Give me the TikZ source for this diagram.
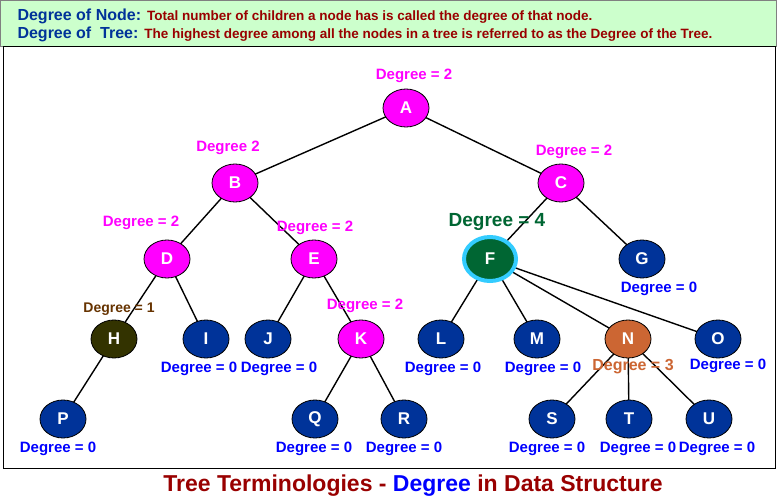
\documentclass[tikz,border=0pt]{standalone}
\usepackage{fontspec}
\setmainfont{Liberation Sans}
\usetikzlibrary{shapes.geometric}
\definecolor{mag}{HTML}{FF00FF}
\definecolor{nblue}{HTML}{003399}
\definecolor{lblue}{HTML}{0000FF}
\definecolor{dred}{HTML}{990000}
\definecolor{fgreen}{HTML}{006633}
\definecolor{nor}{HTML}{CC6633}
\definecolor{olive}{HTML}{333300}
\definecolor{brn}{HTML}{663300}
\definecolor{bann}{HTML}{CCFFCC}
\definecolor{cyb}{HTML}{33CCFF}
\begin{document}
\begin{tikzpicture}[x=1pt,y=-1pt,
  nd/.style={ellipse,draw=black,line width=0.8pt,minimum width=46pt,minimum height=38pt,inner sep=0pt,text=white,font=\bfseries\fontsize{17}{19}\selectfont},
  mg/.style={nd,fill=mag},
  bl/.style={nd,fill=nblue},
  lab/.style={font=\bfseries\fontsize{15}{17}\selectfont},
  edge/.style={line width=1.4pt}]
\useasboundingbox (0,0) rectangle (777,498);
\fill[white] (0,0) rectangle (777,498);
\draw[fill=bann,draw=gray] (0.5,0.5) rectangle (776.5,46);
\draw[line width=0.8pt] (3,46) rectangle (775,468);
\node[anchor=west,font=\bfseries\fontsize{16}{18}\selectfont] (b1) at (14,16) {\textcolor{nblue}{Degree of Node:} \textcolor{dred}{\fontsize{13.5}{15}\selectfont Total number of children a node has is called the degree of that node.}};
\node[anchor=west,font=\bfseries\fontsize{16}{18}\selectfont] (b2) at (14,34) {\textcolor{nblue}{Degree of~~Tree:} \textcolor{dred}{\fontsize{13.5}{15}\selectfont The highest degree among all the nodes in a tree is referred to as the Degree of the Tree.}};
\foreach \a/\b/\c in {A/406/108,B/235/183,C/561/183,D/167/259,E/314/259,F/490/259,G/642/259,H/114/339,I/206/339,J/268/339,K/361/339,L/441/339,M/537/339,N/628/339,O/718/339,P/63/419,Q/315/419,R/404/419,S/552/419,T/629/419,U/709/419}
  \coordinate (p\a) at (\b,\c);
\foreach \a/\b in {A/B,A/C,B/D,B/E,C/F,C/G,D/H,D/I,E/J,E/K,H/P,K/Q,K/R,F/L,F/M,F/N,F/O,N/S,N/T,N/U}
  \draw[edge] (p\a) -- (p\b);
\node[mg] (A) at (pA) {A};
\node[mg] (B) at (pB) {B};
\node[mg] (C) at (pC) {C};
\node[mg] (D) at (pD) {D};
\node[mg] (E) at (pE) {E};
\node[nd,fill=fgreen,draw=cyb,line width=4pt,minimum width=52pt,minimum height=44pt] (F) at (pF) {F};
\node[bl] (G) at (pG) {G};
\node[nd,fill=olive] (H) at (pH) {H};
\node[bl] (I) at (pI) {I};
\node[bl] (J) at (pJ) {J};
\node[mg] (K) at (pK) {K};
\node[bl] (L) at (pL) {L};
\node[bl] (M) at (pM) {M};
\node[nd,fill=nor] (N) at (pN) {N};
\node[bl] (O) at (pO) {O};
\node[bl] (P) at (pP) {P};
\node[bl] (Q) at (pQ) {Q};
\node[bl] (R) at (pR) {R};
\node[bl] (S) at (pS) {S};
\node[bl] (T) at (pT) {T};
\node[bl] (U) at (pU) {U};
\node[lab,text=mag] (la) at (414,76) {Degree = 2};
\node[lab,text=mag] (lb) at (228,148) {Degree 2};
\node[lab,text=mag] (lc) at (574,152) {Degree = 2};
\node[lab,text=mag] (ld) at (141,223) {Degree = 2};
\node[lab,text=mag] (le) at (315,228) {Degree = 2};
\node[lab,text=fgreen,font=\bfseries\fontsize{19}{21}\selectfont] (lf) at (497,222) {Degree = 4};
\node[lab,text=lblue] (lg) at (659,289) {Degree = 0};
\node[lab,text=brn,font=\bfseries\fontsize{14}{16}\selectfont] (lh) at (119,309) {Degree = 1};
\node[lab,text=mag] (lk) at (365,306) {Degree = 2};
\node[lab,text=lblue] (li) at (199,369) {Degree = 0};
\node[lab,text=lblue] (lj) at (279,369) {Degree = 0};
\node[lab,text=lblue] (ll) at (443,369) {Degree = 0};
\node[lab,text=lblue] (lm) at (543,369) {Degree = 0};
\node[lab,text=nor,font=\bfseries\fontsize{16}{18}\selectfont] (ln) at (633,367) {Degree = 3};
\node[lab,text=lblue] (lo) at (728,366) {Degree = 0};
\node[lab,text=lblue] (lp) at (58,449) {Degree = 0};
\node[lab,text=lblue] (lq) at (314,449) {Degree = 0};
\node[lab,text=lblue] (lr) at (404,449) {Degree = 0};
\node[lab,text=lblue] (ls) at (547,449) {Degree = 0};
\node[lab,text=lblue] (lt) at (638,449) {Degree = 0};
\node[lab,text=lblue] (lu) at (717,449) {Degree = 0};
\node[font=\bfseries\fontsize{23}{25}\selectfont] (title) at (413,486) {\textcolor{dred}{Tree Terminologies - }\textcolor{lblue}{Degree}\textcolor{dred}{\ in Data Structure}};
\end{tikzpicture}
\end{document}
